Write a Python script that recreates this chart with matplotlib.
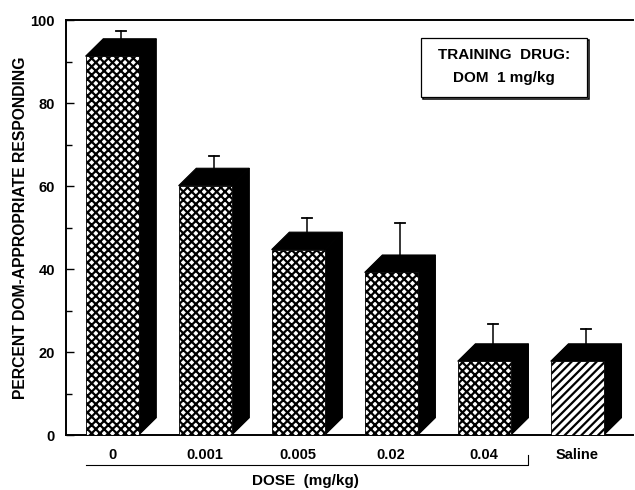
import matplotlib
matplotlib.use("Agg")
import matplotlib.pyplot as plt
from matplotlib.patches import Polygon, Rectangle

# data
doses = ["0", "0.001", "0.005", "0.02", "0.04", "Saline"]
percent = [91.3, 60.1, 44.7, 39.2, 17.8, 17.8]
err_top = [97.4, 67.3, 52.2, 51.0, 26.7, 25.5]   # top of error bar (mean + SEM)
hatches = ["xxxx", "xxxx", "xxxx", "xxxx", "xxxx", "////"]

plt.rcParams["font.family"] = ["Liberation Sans", "DejaVu Sans"]
plt.rcParams["font.weight"] = "bold"
plt.rcParams["axes.labelweight"] = "bold"
plt.rcParams["hatch.linewidth"] = 1.6

fig = plt.figure(figsize=(6.35, 4.9), dpi=100)
ax = fig.add_axes([0.104, 0.112, 0.893, 0.847])

width = 0.57
dx, dy = 0.19, 4.2   # depth of the 3D shadow (x in bar units, y in percent)
xs = list(range(len(doses)))

bars = ax.bar(xs, percent, width=width, color="white", edgecolor="black",
              linewidth=0.6, zorder=3)
for b, h in zip(bars, hatches):
    b.set_hatch(h)

for x, v, top in zip(xs, percent, err_top):
    r = x + width / 2
    l = x - width / 2
    side = Polygon([(r, 0), (r + dx, dy), (r + dx, v + dy), (r, v)],
                   closed=True, facecolor="black", edgecolor="black", lw=0.8, zorder=2)
    lid = Polygon([(l, v), (l + dx, v + dy), (r + dx, v + dy), (r, v)],
                  closed=True, facecolor="black", edgecolor="black", lw=0.8, zorder=2)
    ax.add_patch(side)
    ax.add_patch(lid)
    ex = x + dx / 2
    ax.plot([ex, ex], [v + dy, top], color="black", lw=1.1, zorder=1)
    ax.plot([ex - 0.055, ex + 0.055], [top, top], color="black", lw=1.3, zorder=1)

ax.set_xlim(-0.495, 5.6)
ax.set_ylim(0, 100)
ax.set_yticks([0, 20, 40, 60, 80, 100])
ax.set_yticks([10, 30, 50, 70, 90], minor=True)
ax.tick_params(axis="y", which="major", direction="in", length=6, width=1, pad=8,
               labelsize=10.5)
ax.tick_params(axis="y", which="minor", direction="in", length=4, width=1)
ax.set_xticks(xs)
ax.set_xticklabels(doses)
ax.tick_params(axis="x", length=0, pad=9, labelsize=10.5)

ax.spines["right"].set_visible(False)
for s in ["left", "bottom", "top"]:
    ax.spines[s].set_linewidth(1.4)

ax.set_ylabel("PERCENT DOM-APPROPRIATE RESPONDING", fontsize=11.3,
              fontweight="bold", labelpad=2)

# bracket grouping the doses
tr = ax.get_xaxis_transform()
bx0 = xs[0] - width / 2
bx1 = xs[4] + width / 2 + dx
ax.plot([bx0, bx1, bx1], [-0.072, -0.072, -0.048], color="black", lw=0.8,
        transform=tr, clip_on=False)
ax.text(2.08, -0.11, "DOSE  (mg/kg)", transform=tr, ha="center", va="center",
        fontsize=11, fontweight="bold")

# training drug box
ax.add_patch(Rectangle((0.630, 0.809), 0.293, 0.142, transform=ax.transAxes,
                       facecolor="none", edgecolor="black", lw=1.1))
ax.add_patch(Rectangle((0.626, 0.814), 0.293, 0.142, transform=ax.transAxes,
                       facecolor="white", edgecolor="black", lw=0.9))
ax.text(0.772, 0.917, "TRAINING  DRUG:", transform=ax.transAxes, ha="center",
        va="center", fontsize=11, fontweight="bold")
ax.text(0.772, 0.860, "DOM  1 mg/kg", transform=ax.transAxes, ha="center",
        va="center", fontsize=11, fontweight="bold")

fig.savefig("out.png", dpi=100)
